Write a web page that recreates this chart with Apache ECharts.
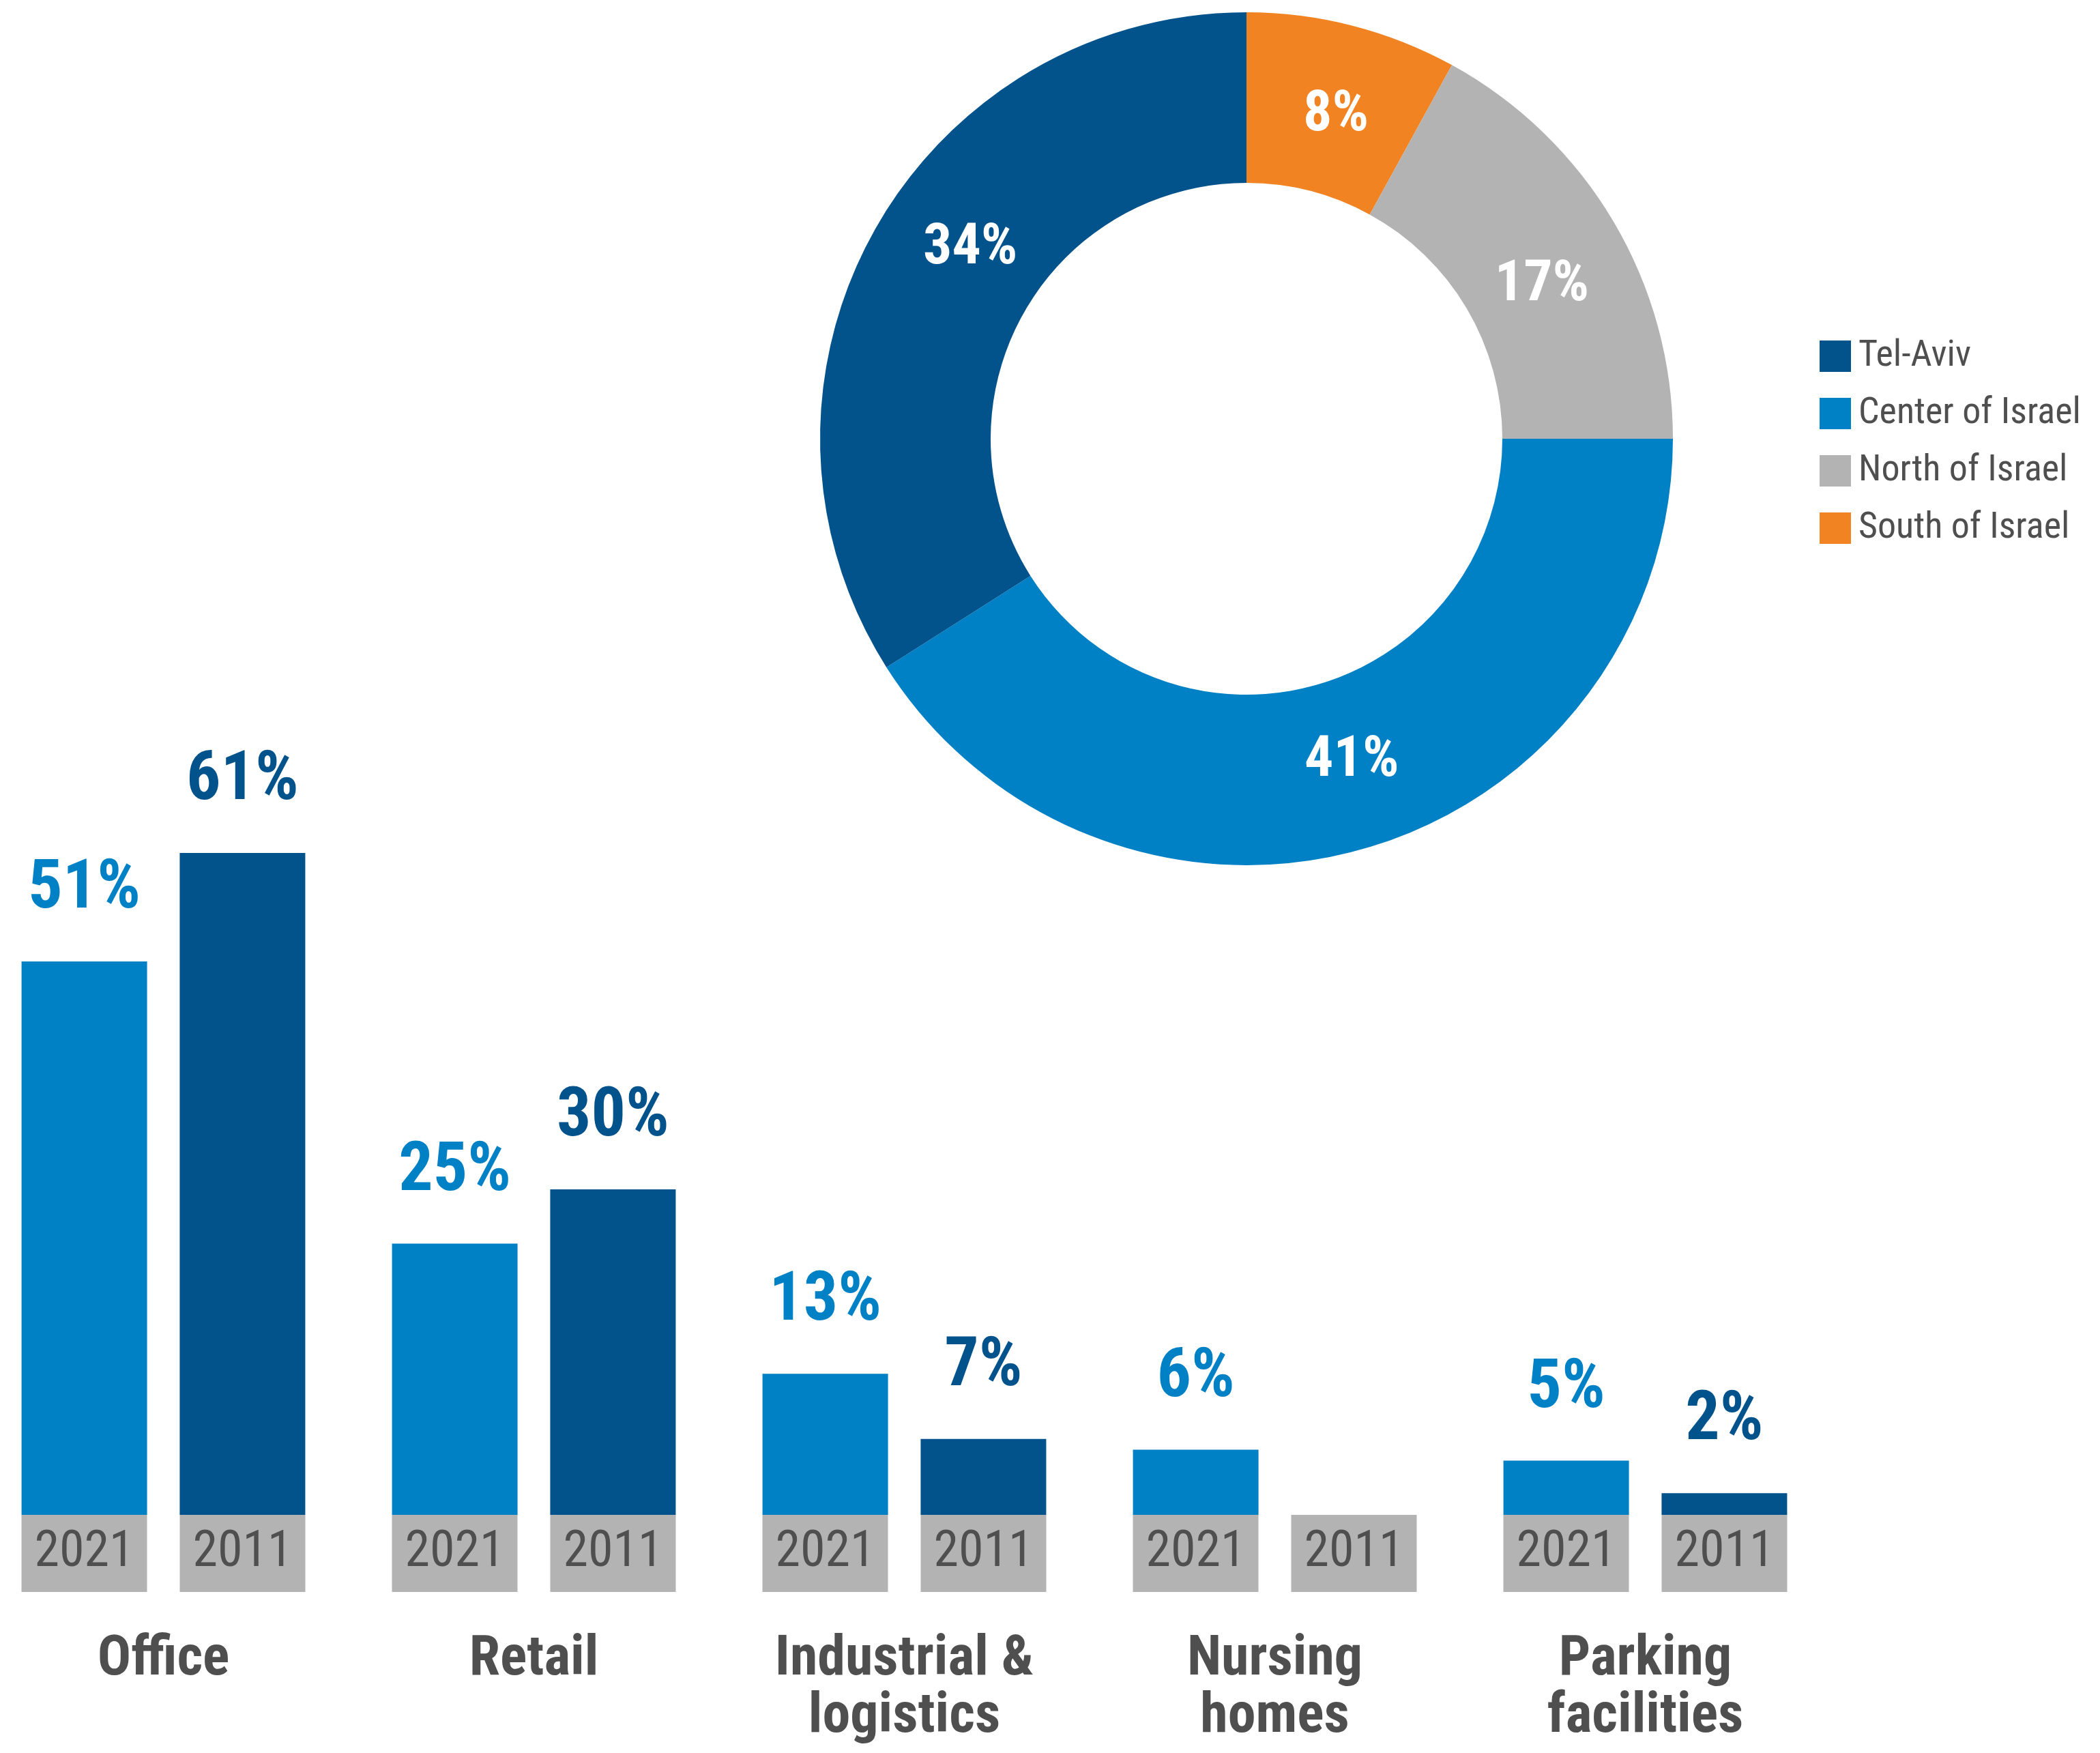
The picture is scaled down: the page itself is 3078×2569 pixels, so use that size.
<!DOCTYPE html>
<html>
<head>
<meta charset="utf-8">
<script src="https://cdn.jsdelivr.net/npm/echarts@6/dist/echarts.min.js"></script>
<style>
  html, body { margin: 0; padding: 0; background: #ffffff; }
  #chart { width: 3078px; height: 2569px; }
</style>
</head>
<body>
<div id="chart"></div>
<script>
// Asset categories and their portfolio share, 2021 vs 2011
const categories = ['Office', 'Retail', 'Industrial &\nlogistics', 'Nursing\nhomes', 'Parking\nfacilities'];
const years = ['2021', '2011'];
const share2021 = [51, 25, 13, 6, 5];
const share2011 = [61, 30, 7, null, 2];

// Regional split shown in the donut (clockwise from the top)
const regions = ['South of Israel', 'North of Israel', 'Center of Israel', 'Tel-Aviv'];
const regionShare = [8, 17, 41, 34];
const legendOrder = ['Tel-Aviv', 'Center of Israel', 'North of Israel', 'South of Israel'];

const DARK = '#02528c';
const LIGHT = '#0081c6';
const GREY = '#b3b3b3';
const ORANGE = '#f28322';
const TEXT = '#4f4f4f';
const FONT = '"Roboto Condensed", "Liberation Sans", sans-serif';

const regionColors = {
  'Tel-Aviv': DARK,
  'Center of Israel': LIGHT,
  'North of Israel': GREY,
  'South of Israel': ORANGE
};

// small nudges for the ring labels
const ringLabelOffset = {
  'Tel-Aviv': [36, -36],
  'Center of Israel': [14, -10],
  'North of Israel': [0, 32],
  'South of Israel': [6, 14]
};

const chart = echarts.init(document.getElementById('chart'), null, { renderer: 'canvas' });

function axisLabelText(name) {
  const lines = name.split('\n').map(l => '{c|' + l + '}').join('\n');
  return '{y|' + years[0] + '}{g|}{y|' + years[1] + '}\n{s| }\n' + lines;
}

const valueLabel = (color) => ({
  show: true,
  position: 'top',
  distance: 54,
  formatter: '{c}%',
  color: color,
  fontFamily: FONT,
  fontWeight: 'bold',
  fontSize: 100
});

chart.setOption({
  animation: false,
  backgroundColor: '#ffffff',
  textStyle: { fontFamily: FONT },
  legend: {
    orient: 'vertical',
    left: 2662,
    top: 490,
    itemWidth: 46,
    itemHeight: 46,
    itemGap: 30,
    icon: 'rect',
    data: legendOrder,
    textStyle: { color: TEXT, fontSize: 54, fontFamily: FONT, padding: [0, 0, 0, 6] }
  },
  grid: {
    left: -32,
    width: 2715,
    bottom: 349,
    top: 630,
    outerBoundsMode: 'none',
    containLabel: false
  },
  xAxis: {
    type: 'category',
    data: categories,
    axisLine: { show: false },
    axisTick: { show: false },
    axisLabel: {
      interval: 0,
      margin: 0,
      hideOverlap: false,
      formatter: axisLabelText,
      rich: {
        y: {
          width: 184,
          height: 113,
          backgroundColor: GREY,
          align: 'center',
          fontSize: 74,
          color: TEXT,
          fontFamily: FONT
        },
        g: { width: 48, height: 113 },
        s: { fontSize: 1, lineHeight: 58, height: 58 },
        c: {
          fontSize: 82,
          lineHeight: 84,
          fontWeight: 'bold',
          color: TEXT,
          fontFamily: FONT,
          align: 'center'
        }
      }
    }
  },
  yAxis: {
    type: 'value',
    min: 0,
    max: 100,
    show: false,
    splitLine: { show: false }
  },
  series: [
    {
      name: years[0],
      type: 'bar',
      data: share2021,
      barWidth: 184,
      barGap: '26%',
      itemStyle: { color: LIGHT },
      label: valueLabel(LIGHT)
    },
    {
      name: years[1],
      type: 'bar',
      data: share2011,
      barWidth: 184,
      barGap: '26%',
      itemStyle: { color: DARK },
      label: valueLabel(DARK)
    },
    {
      name: 'Regions',
      type: 'pie',
      center: [1827, 643],
      radius: [375, 625],
      startAngle: 90,
      clockwise: true,
      avoidLabelOverlap: false,
      label: {
        show: true,
        position: 'inside',
        formatter: '{c}%',
        color: '#ffffff',
        fontFamily: FONT,
        fontWeight: 'bold',
        fontSize: 84
      },
      labelLine: { show: false },
      emphasis: { disabled: true },
      data: regions.map((r, i) => ({
        name: r,
        value: regionShare[i],
        itemStyle: { color: regionColors[r] },
        label: { offset: ringLabelOffset[r] }
      }))
    }
  ]
});
</script>
</body>
</html>
